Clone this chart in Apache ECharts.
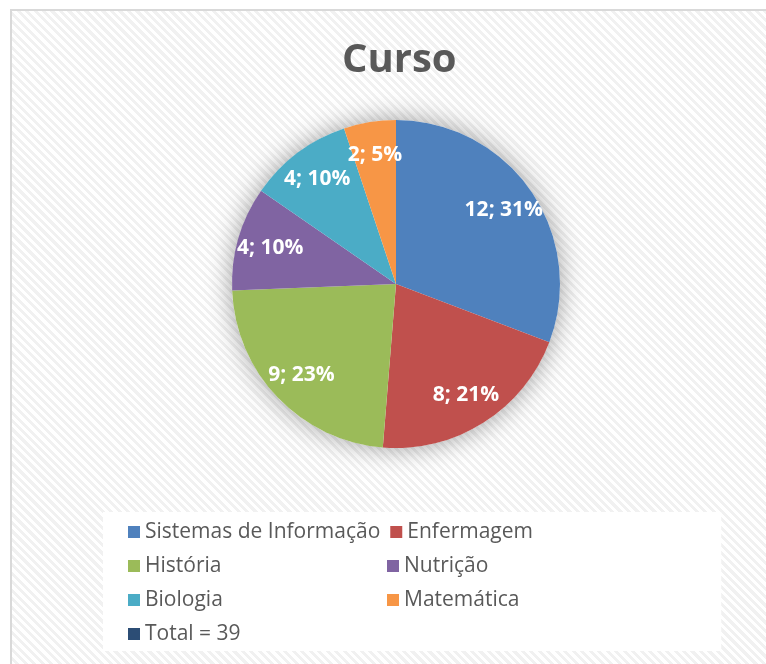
<!DOCTYPE html>
<html>
<head>
<meta charset="utf-8">
<script src="https://cdn.jsdelivr.net/npm/echarts@6/dist/echarts.min.js"></script>
<style>
  html, body { margin: 0; padding: 0; background: #fff; overflow: hidden; }
  .frame {
    position: absolute; left: 10px; top: 9px; width: 800px; height: 700px;
    border: 2px solid #d9d9d9; box-sizing: border-box;
    background: repeating-linear-gradient(45deg, #ffffff 0 3px, #f1f1f1 3px 6px);
  }
  #chart { position: absolute; left: 0; top: 0; width: 766px; height: 664px; }
</style>
</head>
<body>
<div class="frame"></div>
<div id="chart"></div>
<script>
// dados do gráfico
const cursos = ['Sistemas de Informação', 'Enfermagem', 'História', 'Nutrição', 'Biologia', 'Matemática']
const alunos = [12, 8, 9, 4, 4, 2]
const cores = ['#4F81BD', '#C0504D', '#9BBB59', '#8064A2', '#4BACC6', '#F79646']
const totalLabel = 'Total = 39'
const totalCor = '#2C4D75'

const fonte = '"Open Sans", "Liberation Sans", sans-serif'
const centro = [396, 284]
const raio = 164

const chart = echarts.init(document.getElementById('chart'))

const fatias = cursos.map((nome, i) => ({
  name: nome,
  value: alunos[i],
  itemStyle: { color: cores[i] }
}))

chart.setOption({
  animation: false,
  backgroundColor: 'transparent',
  title: {
    text: 'Curso',
    left: 337,
    top: 36,
    textStyle: { fontFamily: fonte, fontSize: 40, fontWeight: 'bold', color: '#595959' }
  },
  legend: {
    data: cursos.concat([totalLabel]),
    left: 103,
    top: 512,
    width: 520,
    padding: [8, 82, 5, 25],
    backgroundColor: '#ffffff',
    itemWidth: 12,
    itemHeight: 12,
    itemGap: 10,
    icon: 'rect',
    selectedMode: false,
    textStyle: {
      fontFamily: fonte, fontSize: 21, color: '#595959',
      width: 232, lineHeight: 24, padding: [0, 0, 0, 0]
    }
  },
  series: [
    {
      // sombra atrás da pizza
      type: 'pie',
      silent: true,
      center: centro,
      radius: raio,
      z: 1,
      label: { show: false },
      labelLine: { show: false },
      itemStyle: {
        color: '#ffffff',
        shadowBlur: 26,
        shadowColor: 'rgba(0,0,0,0.38)'
      },
      data: [{ name: 'sombra', value: 1 }]
    },
    {
      name: 'Curso',
      type: 'pie',
      center: centro,
      radius: raio,
      startAngle: 90,
      z: 2,
      avoidLabelOverlap: false,
      label: { show: false },
      labelLine: { show: false },
      emphasis: { disabled: true },
      data: fatias.concat([{
        name: totalLabel,
        value: 0,
        itemStyle: { color: totalCor }
      }])
    },
    {
      // rótulos posicionados mais para fora, como no Excel
      type: 'pie',
      silent: true,
      center: centro,
      radius: [Math.round(raio * 0.56), raio],
      startAngle: 90,
      z: 3,
      percentPrecision: 0,
      avoidLabelOverlap: false,
      itemStyle: { color: 'transparent' },
      labelLine: { show: false },
      label: {
        show: true,
        position: 'inside',
        formatter: '{c}; {d}%',
        fontFamily: fonte,
        fontSize: 21,
        fontWeight: 'bold',
        color: '#ffffff'
      },
      data: cursos.map((nome, i) => ({ name: nome, value: alunos[i] }))
    }
  ]
})
</script>
</body>
</html>
